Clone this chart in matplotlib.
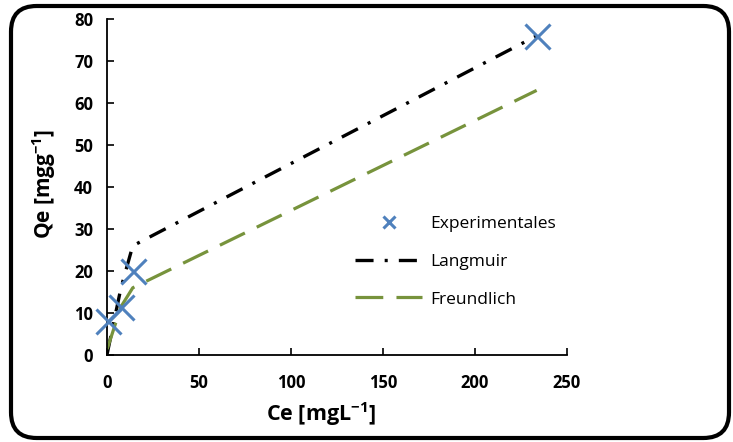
import matplotlib
matplotlib.use("Agg")
import matplotlib.pyplot as plt
from matplotlib.patches import FancyBboxPatch

# experimental points
ce_exp = [0.5, 7.6, 14.0, 233.5]
qe_exp = [8.0, 11.4, 20.0, 76.0]

# model curves evaluated at the same Ce values
ce_model = [0.1, 7.6, 14.0, 233.5]
qe_langmuir = [0.3, 16.0, 26.0, 76.0]
qe_freundlich = [1.4, 11.5, 16.0, 63.0]

x_ticks = [0, 50, 100, 150, 200, 250]
y_ticks = [0, 10, 20, 30, 40, 50, 60, 70, 80]

plt.rcParams['font.family'] = ['Open Sans', 'DejaVu Sans']
plt.rcParams['mathtext.fontset'] = 'custom'
plt.rcParams['mathtext.rm'] = 'Open Sans:bold'
plt.rcParams['mathtext.default'] = 'rm'
plt.rcParams['lines.scale_dashes'] = False

W, H = 733, 442
fig = plt.figure(figsize=(W / 100, H / 100), dpi=100)

# rounded frame around the whole chart
frame = FancyBboxPatch((11 / W, 4 / H), 718 / W, 432 / H,
                       boxstyle="round,pad=0,rounding_size=0.035",
                       transform=fig.transFigure, fill=False,
                       edgecolor='black', linewidth=3, mutation_aspect=W / H)
fig.patches.append(frame)

ax = fig.add_axes([107 / W, 87 / H, 460 / W, 336 / H])

blue = '#4F81BD'
green = '#77933C'

ax.plot(ce_model, qe_langmuir, color='black', linewidth=2.4,
        dashes=(13, 8, 2.2, 8), label='Langmuir', zorder=2)
ax.plot(ce_model, qe_freundlich, color=green, linewidth=2.3,
        dashes=(20, 9.5), label='Freundlich', zorder=2)
ax.plot(ce_exp, qe_exp, linestyle='none', marker='x', markersize=18,
        markeredgewidth=2.2, color=blue, label='Experimentales',
        clip_on=False, zorder=3)

ax.set_xlim(0, 250)
ax.set_ylim(0, 80)
ax.set_xticks(x_ticks)
ax.set_yticks(y_ticks)
for lab in ax.get_xticklabels() + ax.get_yticklabels():
    lab.set_fontweight('bold')
    lab.set_fontsize(12)
ax.tick_params(axis='x', direction='in', length=5, width=1.2, pad=14)
ax.tick_params(axis='y', direction='in', length=5, width=1.2, pad=10)

for side in ['top', 'right']:
    ax.spines[side].set_visible(False)
for side in ['left', 'bottom']:
    ax.spines[side].set_linewidth(1.3)

fig.text(321 / W, 1 - 414 / H, 'Ce [mgL$^{-1}$]', fontsize=15.5,
         fontweight='bold', ha='center', va='center')
fig.text(44 / W, 1 - 184 / H, 'Qe [mgg$^{-1}$]', fontsize=15,
         fontweight='bold', ha='center', va='center', rotation=90)

# legend order: Experimentales, Langmuir, Freundlich
handles, labels = ax.get_legend_handles_labels()
order = [2, 0, 1]
leg = ax.legend([handles[i] for i in order], [labels[i] for i in order],
                loc='upper left', bbox_to_anchor=(346 / W, 1 - 207 / H),
                bbox_transform=fig.transFigure, frameon=False,
                fontsize=12.5, handlelength=3.9, handletextpad=0.45,
                labelspacing=1.25, borderpad=0, markerscale=0.45)

fig.savefig('out.png', dpi=100)
